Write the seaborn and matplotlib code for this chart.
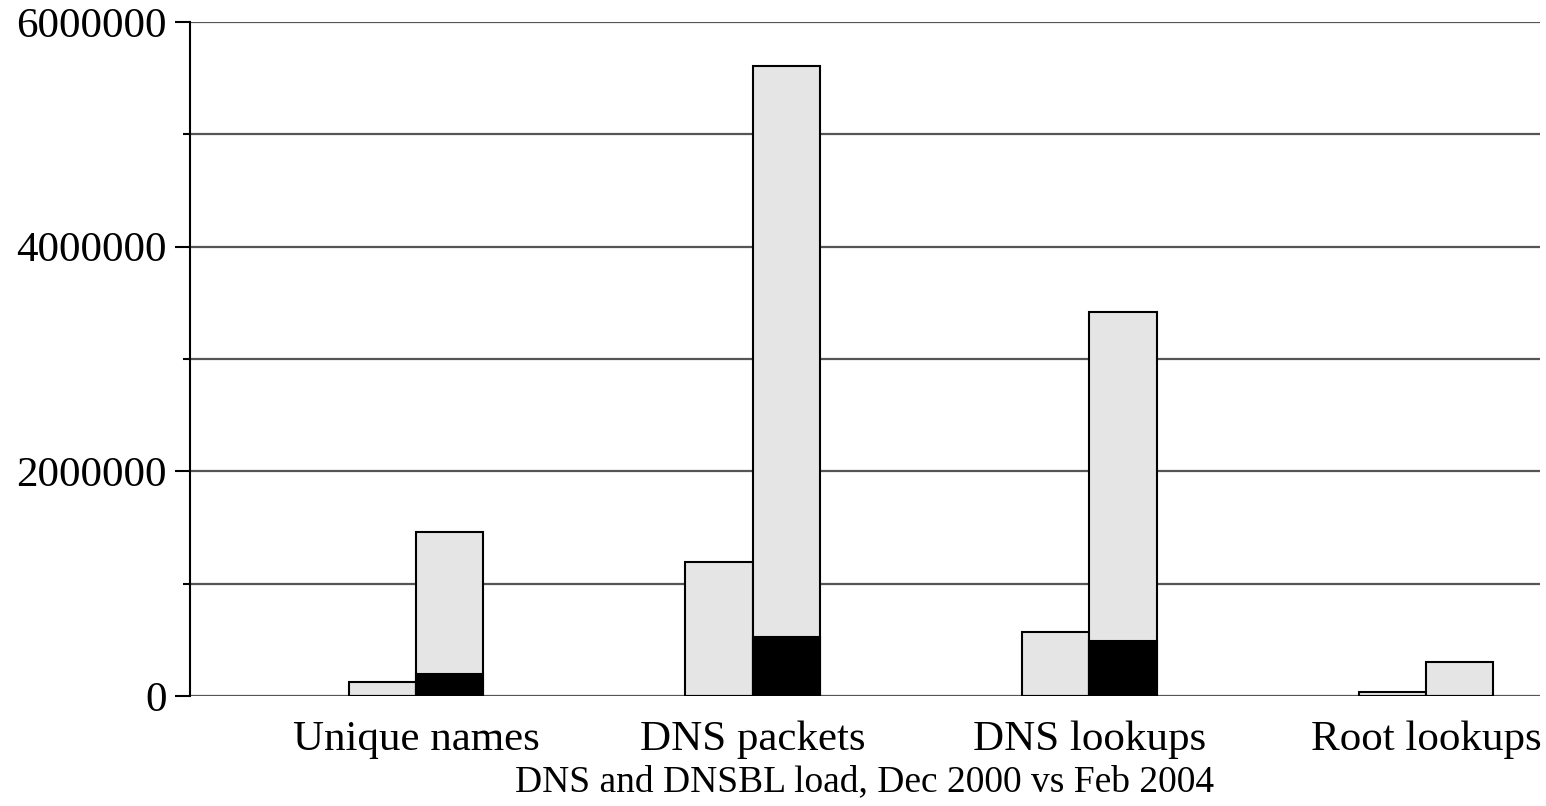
import numpy as np
import pandas as pd
import seaborn as sns
import matplotlib.pyplot as plt
from matplotlib.ticker import MultipleLocator

sns.set_theme(style="white")
plt.rcParams['font.family'] = ['Liberation Serif', 'DejaVu Serif']
plt.rcParams['text.color'] = 'black'
plt.rcParams['xtick.color'] = 'black'
plt.rcParams['ytick.color'] = 'black'
plt.rcParams['axes.labelcolor'] = 'black'

# data
categories = ["Unique names", "DNS packets", "DNS lookups", "Root lookups"]
periods = ["Dec 2000", "Feb 2004"]
dec2000 = [125000, 1195000, 570000, 36000]
feb2004 = [1460000, 5610000, 3420000, 303000]
# dark part of the Feb 2004 bars
feb2004_dark = [196000, 525000, 490000, 0]
dec2000_dark = [0, 0, 0, 0]

df = pd.DataFrame({
    "category": categories * 2,
    "period": [periods[0]] * 4 + [periods[1]] * 4,
    "value": dec2000 + feb2004,
})
df_dark = pd.DataFrame({
    "category": categories * 2,
    "period": [periods[0]] * 4 + [periods[1]] * 4,
    "value": dec2000_dark + feb2004_dark,
})

fig = plt.figure(figsize=(15.46, 8.06), dpi=100)
ax = fig.add_axes([0.1229, 0.1365, 0.8732, 0.8362])

sns.barplot(data=df, x="category", y="value", hue="period", hue_order=periods,
            palette=["#e5e5e5", "#e5e5e5"], width=0.4, gap=0,
            edgecolor="black", linewidth=1.5, legend=False, ax=ax, zorder=3)
sns.barplot(data=df_dark, x="category", y="value", hue="period", hue_order=periods,
            palette=["black", "black"], width=0.4, gap=0,
            edgecolor="black", linewidth=1.5, legend=False, ax=ax, zorder=4)

ax.set_xlim(-0.671, 3.339)
ax.set_ylim(0, 6000000)
ax.yaxis.set_major_locator(MultipleLocator(2000000))
ax.yaxis.set_minor_locator(MultipleLocator(1000000))
ax.grid(True, which="both", axis="y", color="#555555", lw=1.6, zorder=0)
ax.set_axisbelow(True)
ax.tick_params(axis="y", which="major", left=True, length=11, width=1.5,
               color="black", labelsize=31, pad=6, labelcolor="black")
ax.tick_params(axis="y", which="minor", left=True, length=5, width=1.5, color="black")
ax.tick_params(axis="x", bottom=False, labelsize=31, pad=12, labelcolor="black")
ax.yaxis.set_major_formatter(plt.FuncFormatter(lambda v, p: f"{int(v)}"))

for s in ["top", "right", "bottom"]:
    ax.spines[s].set_visible(False)
ax.spines["left"].set_color("black")
ax.spines["left"].set_linewidth(1.5)

ax.set_ylabel("")
ax.set_xlabel("DNS and DNSBL load, Dec 2000 vs Feb 2004", fontsize=27,
              labelpad=4, color="black")

fig.savefig("out.png", dpi=100)
